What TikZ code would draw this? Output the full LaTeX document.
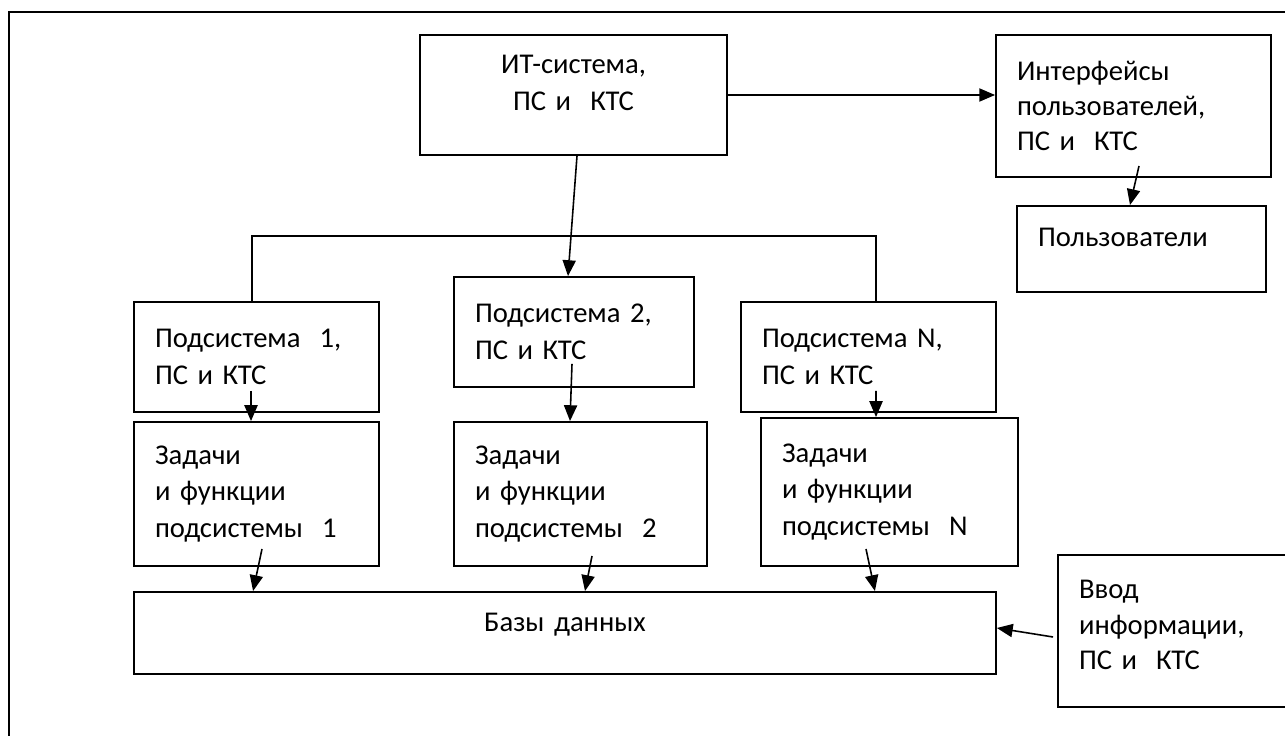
\documentclass[tikz,border=0pt]{standalone}
\usepackage{fontspec}
\setmainfont{Carlito}
\usetikzlibrary{arrows.meta}
\begin{document}
\begin{tikzpicture}[x=0.02cm,y=-0.02cm,
  box/.style={draw, line width=1.1pt, inner xsep=0.42cm, inner ysep=0pt, align=left,
    font=\fontsize{16.3pt}{21pt}\selectfont},
  tight/.style={font=\fontsize{16.3pt}{20pt}\selectfont},
  arr/.style={line width=0.9pt, -{Triangle[length=9pt,width=7.5pt]}}]
\useasboundingbox (0,0) rectangle (1285,736);
\clip (0,0) rectangle (1285,736);
\draw[line width=1.4pt] (9,12) rectangle (1300,760); % outer frame

\node[box, align=center, text width=5.3cm, minimum height=2.4cm, text depth=35pt] (it) at (573.5,95) {ИТ-система,\\ПС и~ КТС};
\node[box, tight, text width=4.66cm, minimum height=2.84cm] (ui) at (1133.5,106) {Интерфейсы\\пользователей,\\ПС и~ КТС};
\node[box, text width=4.14cm, minimum height=1.72cm, text depth=13.6pt] (users) at (1141.5,249) {Пользователи};

\node[box, text width=4.06cm, minimum height=2.2cm] (sub1) at (256.5,357) {Подсистема~ 1,\\ПС и КТС};
\node[box, text width=3.96cm, minimum height=2.2cm] (sub2) at (574,332) {Подсистема 2,\\ПС и КТС};
\node[box, text width=4.26cm, minimum height=2.2cm] (subN) at (868.5,357) {Подсистема N,\\ПС и КТС};

\node[box, text width=4.06cm, minimum height=2.88cm] (task1) at (256.5,494) {Задачи\\и функции\\подсистемы~ 1};
\node[box, text width=4.22cm, minimum height=2.88cm] (task2) at (580.5,494) {Задачи\\и функции\\подсистемы~ 2};
\node[box, text width=4.3cm, minimum height=2.96cm] (taskN) at (889.5,492) {Задачи\\и функции\\подсистемы~ N};

\node[box, align=center, text width=16.4cm, minimum height=1.64cm, text depth=12.5pt] (db) at (565,633) {Базы данных};
\node[box, tight, text width=4cm, minimum height=3.04cm, text depth=47pt] (input) at (1179,631) {Ввод\\информации,\\ПС и~ КТС};

\draw[arr] (it.east) -- (it.east -| ui.west);
\draw[arr] ([xshift=0.07cm]it.south) -- ([xshift=-0.12cm]sub2.north);
\draw[arr] ([xshift=0.11cm,yshift=0.24cm]ui.south) -- ([xshift=-0.23cm]users.north);

% bus to the subsystems
\coordinate (busL) at (252,236);
\coordinate (busR) at (876,236);
\draw[line width=0.9pt] (sub1.north -| busL) -- (busL) -- (busR) -- (subN.north -| busR);

\draw[arr] ([xshift=-0.11cm,yshift=0.44cm]sub1.south) -- ([xshift=-0.11cm]task1.north);
\draw[arr] ([xshift=-0.04cm,yshift=0.48cm]sub2.south) -- ([xshift=-0.21cm]task2.north);
\draw[arr] ([xshift=0.15cm,yshift=0.44cm]subN.south) -- ([xshift=-0.27cm]taskN.north);

\draw[arr] ([xshift=0.11cm,yshift=0.36cm]task1.south) -- ([xshift=-6.24cm]db.north);
\draw[arr] ([xshift=0.23cm,yshift=0.22cm]task2.south) -- ([xshift=0.4cm]db.north);
\draw[arr] ([xshift=-0.47cm,yshift=0.36cm]taskN.south) -- ([xshift=6.2cm]db.north);
\draw[arr] ([xshift=-0.08cm,yshift=-0.12cm]input.west) -- ([yshift=0.1cm]db.east);
\end{tikzpicture}
\end{document}
